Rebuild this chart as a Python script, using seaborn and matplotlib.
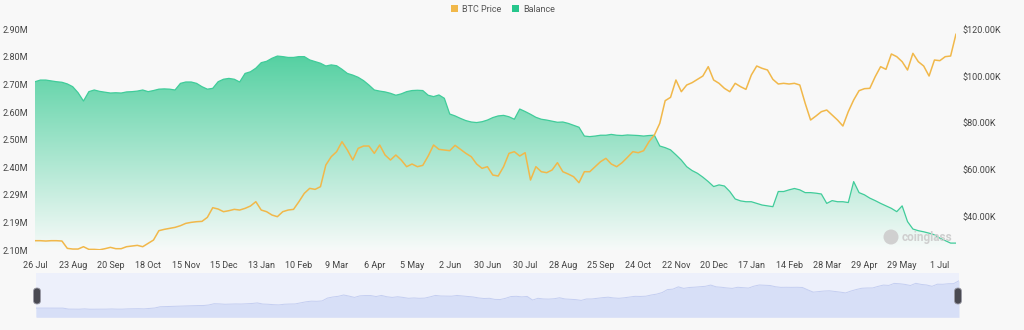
import numpy as np
import pandas as pd
import matplotlib
matplotlib.use("Agg")
import matplotlib.pyplot as plt
import seaborn as sns
from matplotlib.colors import LinearSegmentedColormap
from matplotlib.patches import Patch, FancyBboxPatch, Circle
from matplotlib.transforms import IdentityTransform

# Exchange BTC balance (millions of BTC), one value every 4 daily slots
balance = [
    2.710, 2.716, 2.716, 2.713, 2.710, 2.708, 2.702, 2.692, 2.670, 2.640,
    2.674, 2.680, 2.675, 2.672, 2.669, 2.670, 2.669, 2.673, 2.674, 2.676,
    2.680, 2.674, 2.678, 2.683, 2.684, 2.683, 2.680, 2.704, 2.709, 2.709,
    2.704, 2.692, 2.683, 2.686, 2.710,
    2.719, 2.722, 2.719, 2.709, 2.740, 2.746, 2.759, 2.779, 2.784, 2.795,
    2.803, 2.801, 2.798, 2.798, 2.801, 2.801, 2.789, 2.783, 2.777, 2.767,
    2.771, 2.768, 2.755, 2.740, 2.734, 2.726, 2.714, 2.698, 2.680, 2.676,
    2.673, 2.668, 2.661, 2.666,
    2.674, 2.678, 2.679, 2.678, 2.661, 2.656, 2.662, 2.650, 2.593, 2.586,
    2.577, 2.569, 2.564, 2.562, 2.565, 2.571, 2.580, 2.586, 2.588, 2.583,
    2.574, 2.611, 2.602, 2.592, 2.581, 2.574, 2.571, 2.567, 2.563, 2.564,
    2.559, 2.552, 2.545, 2.513,
    2.511, 2.513, 2.516, 2.516, 2.519, 2.516, 2.515, 2.517, 2.516, 2.515,
    2.513, 2.515, 2.516, 2.477, 2.471, 2.463, 2.445, 2.426, 2.402, 2.388,
    2.378, 2.364, 2.348, 2.330, 2.336, 2.332, 2.312, 2.285, 2.278, 2.275,
    2.275, 2.269, 2.263, 2.260, 2.257,
    2.312, 2.312, 2.318, 2.323, 2.318, 2.308, 2.308, 2.306, 2.303, 2.269,
    2.279, 2.275, 2.275, 2.272, 2.348, 2.308, 2.300, 2.288, 2.279, 2.269,
    2.260, 2.251, 2.239, 2.260, 2.203, 2.176, 2.170, 2.166, 2.161, 2.155,
    2.143, 2.134, 2.125, 2.125,
]

# BTC price (thousands of USD), same sampling
btc_price = [
    29.77, 29.77, 29.63, 29.77, 29.77, 29.63, 26.50, 26.21, 26.21, 27.21,
    26.07, 26.07, 25.90, 26.36, 26.93, 26.36, 26.36, 27.21, 27.49, 27.78,
    27.21, 28.63, 30.05, 34.04, 34.61, 35.04, 35.46, 36.17, 37.17, 37.60,
    37.88, 38.02, 39.73, 43.86, 43.29,
    42.15, 42.58, 43.15, 42.86, 43.57, 44.57, 46.42, 42.86, 42.15, 40.73,
    40.02, 42.15, 42.86, 43.15, 46.42, 49.98, 52.11, 51.68, 52.82, 62.07,
    65.63, 67.76, 72.03, 68.47, 64.21, 69.19, 70.18, 70.18, 67.05, 70.61,
    66.34, 64.21, 66.34, 64.21,
    61.36, 62.50, 61.36, 61.93, 65.91, 70.61, 68.76, 68.47, 68.19, 70.47,
    68.76, 67.05, 65.63, 62.50, 60.65, 61.36, 57.80, 57.38, 61.36, 67.05,
    67.76, 65.91, 67.33, 55.67, 61.36, 59.22, 58.80, 59.93, 63.07, 59.22,
    58.23, 57.09, 54.53, 59.22,
    59.22, 61.36, 63.49, 64.92, 62.50, 61.36, 63.07, 65.35, 67.76, 67.33,
    68.19, 72.03, 74.88, 79.86, 89.53, 90.96, 98.36, 93.37, 96.22, 97.22,
    98.64, 100.06, 104.05, 98.36, 96.94, 94.80, 93.37, 96.94, 95.51, 94.37,
    100.49, 104.33, 103.34, 102.63, 98.64,
    96.65, 96.94, 96.65, 96.94, 96.22, 88.40, 81.28, 82.99, 84.84, 85.55,
    83.42, 81.28, 78.72, 84.84, 89.82, 93.80, 94.66, 94.80, 99.78, 104.05,
    102.91, 109.46, 108.32, 106.18, 102.63, 109.74, 106.18, 104.33, 100.06, 106.89,
    106.61, 108.32, 108.60, 117.99,
]

# Date labels, one every 7 samples
date_labels = [
    "26 Jul", "23 Aug", "20 Sep", "18 Oct", "15 Nov", "15 Dec", "13 Jan",
    "10 Feb", "9 Mar", "6 Apr", "5 May", "2 Jun", "30 Jun", "30 Jul",
    "28 Aug", "25 Sep", "24 Oct", "22 Nov", "20 Dec", "17 Jan", "14 Feb",
    "28 Mar", "29 Apr", "29 May", "1 Jul",
]
SAMPLES_PER_LABEL = 7

balance_tick_labels = ["2.10M", "2.19M", "2.29M", "2.40M", "2.50M",
                       "2.60M", "2.70M", "2.80M", "2.90M"]
price_ticks = [40, 60, 80, 100, 120]

# ---------------------------------------------------------------- styling
W, H, DPI = 1024, 330, 100
BG = "#f8f8f8"
ORANGE = "#f1b84a"
GREEN = "#27c68c"
TEXT = "#444444"

sns.set_theme(style="white")
plt.rcParams["font.family"] = ["Roboto", "DejaVu Sans"]

df = pd.DataFrame({
    "t": np.arange(len(balance)),
    "balance": balance,
    "price": btc_price,
})
n_last = len(df) - 1

fig = plt.figure(figsize=(W / DPI, H / DPI), dpi=DPI, facecolor=BG)

# main panel: balance on the left axis, price on the right axis
ax = fig.add_axes([35 / W, 80 / H, 921 / W, 220.7 / H])
ax.set_facecolor(BG)
ax2 = ax.twinx()

b_lo, b_hi = 2.10, 2.90
p_lo, p_hi = 25.8, 120.0

# balance area with a vertical fade
fill = ax.fill_between(df["t"], df["balance"], b_lo,
                       facecolor="none", edgecolor="none")
clip_path = fill.get_paths()[0]
cmap = LinearSegmentedColormap.from_list("bal", ["#f7faf9", "#3fcb96"])
grad = np.linspace(0, 1, 256).reshape(-1, 1)
im = ax.imshow(grad, extent=[0, n_last, b_lo, b_hi], origin="lower",
               aspect="auto", cmap=cmap, zorder=1, interpolation="bicubic")
im.set_clip_path(clip_path, transform=ax.transData)

sns.lineplot(data=df, x="t", y="balance", ax=ax, color="#40cc9a",
             linewidth=0.9, legend=False, zorder=2)
sns.lineplot(data=df, x="t", y="price", ax=ax2, color=ORANGE,
             linewidth=1.1, legend=False, zorder=3)

ax.set_xlim(0, n_last)
ax.set_ylim(b_lo, b_hi)
ax2.set_ylim(p_lo, p_hi)

ax.set_xticks(np.arange(0, len(df), SAMPLES_PER_LABEL))
ax.set_xticklabels(date_labels)
ax.set_yticks(np.linspace(b_lo, b_hi, len(balance_tick_labels)))
ax.set_yticklabels(balance_tick_labels)
ax2.set_yticks(price_ticks)
ax2.set_yticklabels([f"${v:.2f}K" for v in price_ticks])

for a in (ax, ax2):
    a.set_xlabel("")
    a.set_ylabel("")
    for s in a.spines.values():
        s.set_visible(False)
    a.grid(False)
ax.tick_params(axis="x", length=0, pad=8, labelsize=6.5, labelcolor=TEXT)
ax.tick_params(axis="y", length=0, pad=5, labelsize=6.5, labelcolor=TEXT)
ax2.tick_params(axis="y", length=0, pad=5, labelsize=6.5, labelcolor=TEXT)

# watermark
fig.add_artist(Circle((891, 93), 7.5, transform=IdentityTransform(),
                      facecolor="#d0d0d0", edgecolor="none", zorder=5))
fig.text(902 / W, 93 / H, "coinglass", fontsize=8.5, fontweight="bold",
         color="#cfcfcf", va="center", ha="left", zorder=5)

# navigator strip below the chart
nav = fig.add_axes([36 / W, 12.7 / H, 923 / W, 44.6 / H])
nav.set_facecolor("#edf0fb")
nav.fill_between(df["t"], df["price"], 0, color="#d7dff7", linewidth=0)
sns.lineplot(data=df, x="t", y="price", ax=nav, color="#c4cef1",
             linewidth=0.7, legend=False)
nav.set_xlim(0, n_last)
nav.set_ylim(0, 144)
nav.set_xticks([])
nav.set_yticks([])
nav.set_xlabel("")
nav.set_ylabel("")
for s in nav.spines.values():
    s.set_visible(False)

for cx in (37, 958):
    fig.add_artist(FancyBboxPatch(
        (cx - 3.5, 26), 7, 16,
        boxstyle="round,pad=0,rounding_size=3.5",
        transform=IdentityTransform(),
        facecolor="#4a4a52", edgecolor="#9a9aa5", linewidth=0.6, zorder=6))

# legend
handles = [Patch(facecolor=ORANGE, edgecolor="none"),
           Patch(facecolor=GREEN, edgecolor="none")]
fig.legend(handles, ["BTC Price", "Balance"], loc="center",
           bbox_to_anchor=(503 / W, 1 - 9.2 / H), ncol=2, frameon=False,
           fontsize=6.5, handlelength=0.8, handleheight=0.8,
           handletextpad=0.5, columnspacing=1.1, labelcolor="#555555")

fig.savefig("out.png", dpi=DPI, facecolor=BG)
